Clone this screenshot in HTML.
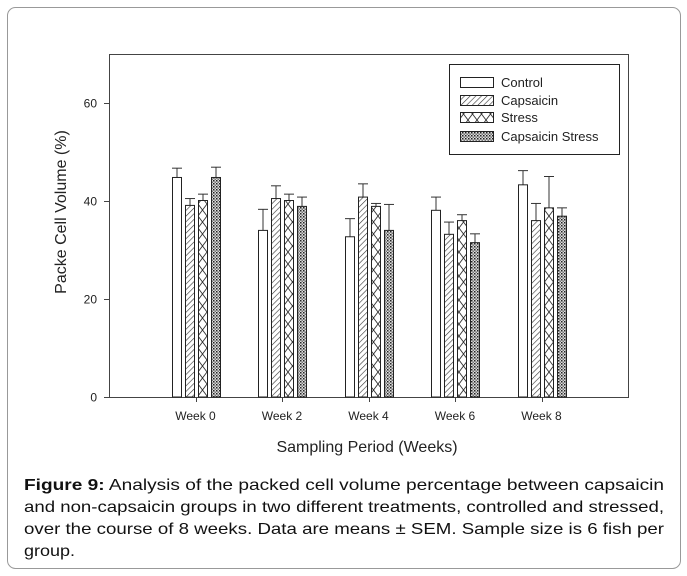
<!DOCTYPE html>
<html><head><meta charset="utf-8"><style>
html,body{margin:0;padding:0;background:#fff;}
svg{display:block;font-family:"Liberation Sans",Arial,sans-serif;}
</style></head><body>
<svg id="chart" width="687" height="576" viewBox="0 0 687 576" xmlns="http://www.w3.org/2000/svg">
<defs>
<pattern id="pCaps" width="4" height="4" patternUnits="userSpaceOnUse" patternTransform="rotate(45)"><rect width="4" height="4" fill="#fff"/><line x1="0" y1="0" x2="0" y2="4" stroke="#333" stroke-width="1.2"/></pattern>
<pattern id="pStress" width="9" height="12" patternUnits="userSpaceOnUse"><rect width="9" height="12" fill="#fff"/><path d="M0,0 L9,12 M9,0 L0,12" stroke="#333" stroke-width="0.9"/></pattern>
<pattern id="pCS" width="3" height="3" patternUnits="userSpaceOnUse"><rect width="3" height="3" fill="#ddd"/><rect width="1.5" height="1.5" fill="#222"/><rect x="1.5" y="1.5" width="1.5" height="1.5" fill="#777"/></pattern>
</defs>
<rect x="7.5" y="7.5" width="673" height="561" rx="8" fill="#fff" stroke="#999"/>
<g id="plot"></g>
<text x="367" y="452" font-size="16" text-anchor="middle" fill="#222">Sampling Period (Weeks)</text>
<text transform="translate(66,212) rotate(-90)" font-size="16" text-anchor="middle" fill="#222">Packe Cell Volume (%)</text>
<g>
<rect x="449.5" y="64.5" width="170" height="90" fill="#fff" stroke="#222"/>
<rect x="460.5" y="77.5" width="33" height="10" fill="#fff" stroke="#222"/>
<text x="501" y="87" font-size="13" fill="#222">Control</text>
<rect x="460.5" y="95.5" width="33" height="10" fill="url(#pCaps)" stroke="#222"/>
<text x="501" y="105" font-size="13" fill="#222">Capsaicin</text>
<rect x="460.5" y="112.5" width="33" height="10" fill="url(#pStress)" stroke="#222"/>
<text x="501" y="122" font-size="13" fill="#222">Stress</text>
<rect x="460.5" y="131.5" width="33" height="10" fill="url(#pCS)" stroke="#222"/>
<text x="501" y="141" font-size="13" fill="#222">Capsaicin Stress</text>
</g>
<g font-size="16" fill="#111">
<text x="24" y="490" textLength="640" lengthAdjust="spacingAndGlyphs"><tspan font-weight="bold">Figure 9:</tspan> Analysis of the packed cell volume percentage between capsaicin</text>
<text x="24" y="512" textLength="640" lengthAdjust="spacingAndGlyphs">and non-capsaicin groups in two different treatments, controlled and stressed,</text>
<text x="24" y="534" textLength="640" lengthAdjust="spacingAndGlyphs">over the course of 8 weeks. Data are means ± SEM. Sample size is 6 fish per</text>
<text x="24" y="556" textLength="51" lengthAdjust="spacingAndGlyphs">group.</text>
</g>
</svg>
<script>
const categories = ["Week 0","Week 2","Week 4","Week 6","Week 8"];
const seriesNames = ["Control","Capsaicin","Stress","Capsaicin Stress"];
const control = [44.8, 34.0, 32.7, 38.1, 43.3];
const controlErr = [1.9, 4.3, 3.7, 2.7, 2.9];
const capsaicin = [39.1, 40.5, 40.8, 33.2, 36.0];
const capsaicinErr = [1.4, 2.6, 2.7, 2.5, 3.5];
const stress = [40.1, 40.1, 38.9, 36.0, 38.6];
const stressErr = [1.3, 1.3, 0.6, 1.2, 6.4];
const capsStress = [44.8, 38.9, 34.0, 31.5, 36.9];
const capsStressErr = [2.1, 1.9, 5.3, 1.8, 1.7];
const yTicks = [0, 20, 40, 60];

const NS = "http://www.w3.org/2000/svg";
const X0 = 109, X1 = 628, Y0 = 397, YT = 54, YMAX = 70;
function yScale(v){ return Y0 - (v / YMAX) * (Y0 - YT); }
function xCenter(i){ return X0 + (i + 1) * (X1 - X0) / (categories.length + 1); }
const fills = ["#fff","url(#pCaps)","url(#pStress)","url(#pCS)"];
const vals = [control, capsaicin, stress, capsStress];
const errs = [controlErr, capsaicinErr, stressErr, capsStressErr];
const plot = document.getElementById("plot");
function mk(tag, attrs){ const e = document.createElementNS(NS, tag); for (const k in attrs) e.setAttribute(k, attrs[k]); plot.appendChild(e); return e; }

const frame = mk("rect", {x: X0+0.5, y: YT+0.5, width: X1-X0, height: Y0-YT, fill: "none", stroke: "#444"});



yTicks.forEach(t => {
  const y = Math.round(yScale(t)) + 0.5;
  const tk = mk("line", {x1: X0-5, x2: X0, y1: y, y2: y, stroke: "#444"});
  
  
  const lb = mk("text", {x: 97, y: y + 4, "font-size": 12, "text-anchor": "end", fill: "#222"});
  lb.textContent = t;
  
  
});

const bw = 9, pitch = 13;
categories.forEach((c, i) => {
  const cx = xCenter(i);
  const tk = mk("line", {x1: Math.round(cx)+0.5, x2: Math.round(cx)+0.5, y1: Y0, y2: Y0+5, stroke: "#444"});
  
  
  const lb = mk("text", {x: cx, y: 420, "font-size": 12, "text-anchor": "middle", fill: "#222"});
  lb.textContent = c;
  
  
  const start = cx - (4 * pitch - (pitch - bw)) / 2;
  for (let s = 0; s < 4; s++) {
    const x = Math.round(start + s * pitch) + 0.5;
    const top = yScale(vals[s][i]);
    const eTop = yScale(vals[s][i] + errs[s][i]);
    const el = mk("line", {x1: x + bw/2, x2: x + bw/2, y1: top, y2: eTop, stroke: "#333"});
    
    
    const cap = mk("line", {x1: x + bw/2 - 5, x2: x + bw/2 + 5, y1: eTop, y2: eTop, stroke: "#333"});
    
    
    const b = mk("rect", {x: x, y: top, width: bw, height: Y0 - top, fill: fills[s], stroke: "#222"});
    
    
  }
});
</script>
</body></html>
